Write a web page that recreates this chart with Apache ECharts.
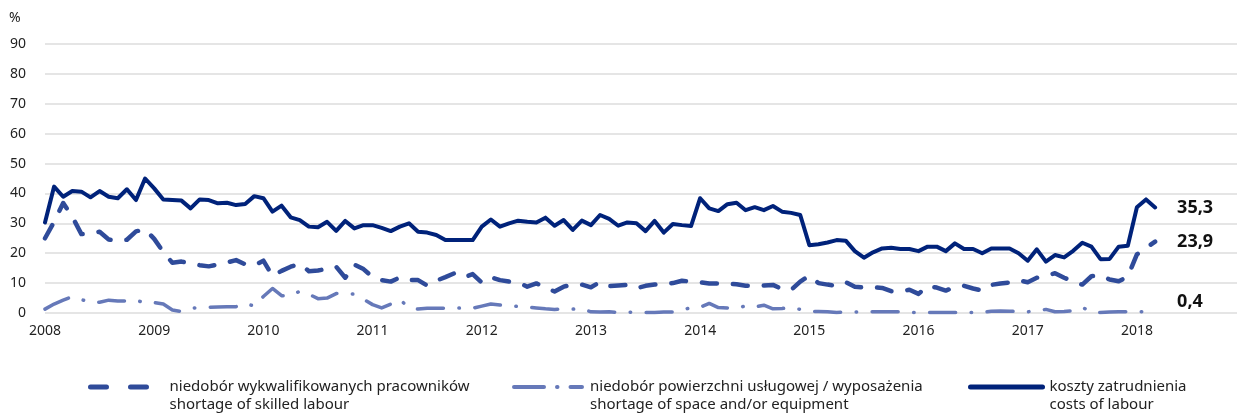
<!DOCTYPE html>
<html>
<head>
<meta charset="utf-8">
<script src="https://cdn.jsdelivr.net/npm/echarts@6/dist/echarts.min.js"></script>
<style>
  html, body { margin: 0; padding: 0; background: #fff; }
  #chart { width: 1240px; height: 415px; }
</style>
</head>
<body>
<div id="chart"></div>
<script>
// Axis years (monthly categories are built from these)
const years = [2008, 2009, 2010, 2011, 2012, 2013, 2014, 2015, 2016, 2017, 2018];

// Series names (Polish / English)
const nameSkilled = 'niedobór wykwalifikowanych pracowników\nshortage of skilled labour';
const nameSpace = 'niedobór powierzchni usługowej / wyposażenia\nshortage of space and/or equipment';
const nameCosts = 'koszty zatrudnienia\ncosts of labour';

// Monthly values, Jan 2008 – Mar 2018 (%)
const skilledLabour = [
  25.0, 30.5, 36.8, 32.2, 26.4, 26.6, 27.2, 24.6, 24.1, 24.5, 27.3, 28.0,
  24.8, 20.4, 16.8, 17.2, 16.6, 16.0, 15.6, 16.2, 16.9, 17.7, 16.3, 15.9,
  17.5, 12.4, 14.1, 15.5, 16.5, 14.0, 14.2, 14.8, 15.5, 11.8, 16.2, 14.7,
  12.0, 11.0, 10.5, 11.9, 11.0, 11.0, 9.2, 10.8, 12.0, 13.3, 11.9, 13.0,
  10.2, 12.0, 11.0, 10.5, 10.2, 8.8, 9.9, 8.5, 7.2, 8.8, 9.6, 9.5,
  8.6, 10.4, 9.0, 9.2, 9.4, 8.3, 9.1, 9.5, 9.7, 10.0, 10.8, 10.5,
  10.3, 9.9, 9.9, 9.8, 9.6, 9.1, 9.1, 9.2, 9.4, 8.0, 7.7, 10.5,
  12.5, 10.0, 9.5, 9.1, 10.3, 8.8, 8.5, 8.6, 8.4, 7.3, 7.2, 7.8,
  6.4, 9.0, 8.5, 7.5, 8.7, 9.1, 8.2, 7.5, 9.4, 9.9, 10.2, 11.0,
  10.3, 11.8, 12.5, 13.3, 11.8, 10.5, 9.5, 12.3, 12.6, 11.2, 10.6, 12.2,
  19.6, 21.7, 23.9
];

const spaceEquipment = [
  1.3, 3.0, 4.3, 5.5, 4.5, 3.5, 3.6, 4.3, 4.0, 4.0, 4.3, 3.3,
  3.5, 3.0, 1.0, 0.5, 1.6, 1.8, 1.9, 2.0, 2.1, 2.1, 3.2, 2.3,
  5.5, 8.2, 5.8, 5.7, 7.3, 6.3, 4.8, 5.0, 6.5, 6.6, 6.3, 4.6,
  2.8, 1.7, 3.0, 4.5, 1.8, 1.3, 1.6, 1.6, 1.6, 1.7, 1.6, 1.6,
  2.3, 3.0, 2.7, 2.4, 2.2, 2.0, 1.7, 1.4, 1.2, 1.3, 1.3, 1.4,
  0.4, 0.3, 0.4, 0.2, 0.2, 0.3, 0.2, 0.2, 0.3, 0.3, 1.0, 1.8,
  1.9, 3.2, 1.8, 1.7, 1.6, 2.4, 2.0, 2.6, 1.4, 1.5, 1.8, 1.2,
  0.5, 0.5, 0.4, 0.2, 0.3, 0.3, 0.4, 0.4, 0.4, 0.4, 0.4, 0.2,
  0.2, 0.2, 0.2, 0.2, 0.2, 0.2, 0.2, 0.2, 0.6, 0.7, 0.6, 0.5,
  0.4, 0.8, 1.2, 0.4, 0.5, 0.8, 1.9, 0.3, 0.2, 0.3, 0.4, 0.4,
  0.4, 0.4, 0.4
];

const labourCosts = [
  30.3, 42.3, 38.9, 40.8, 40.6, 38.7, 40.8, 38.9, 38.4, 41.4, 37.8, 45.0,
  41.7, 38.0, 37.8, 37.6, 35.0, 38.0, 37.8, 36.7, 36.9, 36.1, 36.5, 39.1,
  38.4, 33.9, 35.9, 32.0, 31.1, 28.9, 28.7, 30.5, 27.5, 30.8, 28.3, 29.4,
  29.4, 28.5, 27.4, 28.9, 30.0, 27.2, 26.9, 26.1, 24.4, 24.4, 24.4, 24.4,
  28.9, 31.3, 28.9, 30.0, 30.9, 30.5, 30.3, 31.9, 29.2, 31.1, 27.8, 30.9,
  29.4, 32.8, 31.5, 29.2, 30.3, 30.0, 27.4, 30.8, 26.9, 29.8, 29.4, 29.1,
  38.4, 35.0, 34.1, 36.4, 36.9, 34.4, 35.4, 34.4, 35.8, 33.9, 33.5, 32.8,
  22.7, 23.0, 23.6, 24.4, 24.2, 20.7, 18.5, 20.3, 21.6, 21.8, 21.4, 21.4,
  20.7, 22.2, 22.2, 20.7, 23.3, 21.4, 21.4, 20.0, 21.6, 21.6, 21.6, 20.0,
  17.5, 21.3, 17.2, 19.4, 18.6, 20.8, 23.5, 22.2, 18.0, 18.1, 22.2, 22.5,
  35.4, 38.0, 35.3
];

// Month categories spanning the full axis range
const months = [];
years.forEach(function (y) {
  for (let m = 1; m <= 12; m++) months.push(y + '-' + (m < 10 ? '0' + m : m));
});

const colSkilled = '#2f4b9a';
const colSpace = '#6679b9';
const colCosts = '#00227a';
const font = '"Noto Sans", "DejaVu Sans", sans-serif';

function commaValue(p) {
  return p.value.toFixed(1).replace('.', ',');
}

function endLabel(dy) {
  return {
    show: true,
    formatter: commaValue,
    offset: [14, dy],
    color: '#111',
    fontFamily: font,
    fontWeight: 'bold',
    fontSize: 18
  };
}

// One legend block per series; a blank leading line keeps the icon level with the first text line
function legendBox(name, left, iconW, gap, lineStyle) {
  return {
    data: [name],
    left: left,
    top: 355,
    orient: 'horizontal',
    itemWidth: iconW,
    itemHeight: 14,
    selectedMode: false,
    itemStyle: { opacity: 0, borderWidth: 0 },
    lineStyle: lineStyle,
    formatter: function (n) { return ' \n' + n; },
    textStyle: {
      fontFamily: font,
      fontSize: 15,
      color: '#222',
      lineHeight: 18,
      padding: [0, 0, 0, gap]
    }
  };
}

const chart = echarts.init(document.getElementById('chart'), null, { renderer: 'canvas' });

chart.setOption({
  animation: false,
  backgroundColor: '#fff',
  grid: { left: 45, right: 3, top: 44, bottom: 102, containLabel: false },
  graphic: [{
    type: 'text',
    left: 9,
    top: 11,
    style: { text: '%', font: '14px ' + font, fill: '#222' }
  }],
  legend: [
    legendBox(nameSkilled, 83, 60, 14, { width: 5, cap: 'round', type: [16, 24] }),
    legendBox(nameSpace, 507, 68, 3, { width: 4, cap: 'round', type: [30, 13, 0.5, 13] }),
    legendBox(nameCosts, 963, 72, 2, { width: 5, cap: 'round' })
  ],
  xAxis: {
    type: 'category',
    data: months,
    boundaryGap: false,
    axisLine: { show: false },
    axisTick: { show: false },
    splitLine: { show: false },
    axisLabel: {
      interval: 11,
      margin: 11,
      fontFamily: font,
      fontSize: 14,
      color: '#222',
      formatter: function (v) { return v.slice(0, 4); }
    }
  },
  yAxis: {
    type: 'value',
    min: 0,
    max: 90,
    interval: 10,
    axisLine: { show: false },
    axisTick: { show: false },
    axisLabel: {
      margin: 19,
      fontFamily: font,
      fontSize: 14,
      color: '#222'
    },
    splitLine: { lineStyle: { color: '#dcdcdc', width: 1.6 } }
  },
  series: [
    {
      name: nameSkilled,
      type: 'line',
      data: skilledLabour,
      symbol: 'none',
      color: colSkilled,
      lineStyle: { color: colSkilled, width: 4.5, type: [15, 16], cap: 'round', join: 'round' },
      endLabel: endLabel(0),
      z: 2
    },
    {
      name: nameSpace,
      type: 'line',
      data: spaceEquipment,
      symbol: 'none',
      color: colSpace,
      lineStyle: { color: colSpace, width: 3.5, type: [26, 15.5, 0.5, 15.5], cap: 'round', join: 'round' },
      endLabel: endLabel(-10),
      z: 2
    },
    {
      name: nameCosts,
      type: 'line',
      data: labourCosts,
      symbol: 'none',
      color: colCosts,
      lineStyle: { color: colCosts, width: 4, type: 'solid', cap: 'round', join: 'round' },
      endLabel: endLabel(0),
      z: 3
    }
  ]
});
</script>
</body>
</html>
